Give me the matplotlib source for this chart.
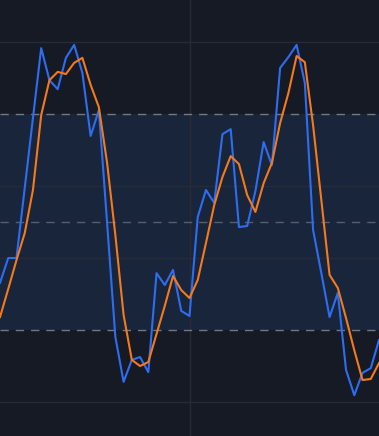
import matplotlib
matplotlib.use("Agg")
import matplotlib.pyplot as plt
import numpy as np

# pixel-read values converted to oscillator scale (0-100)
k_px = [283, 258, 258, 188, 118, 48, 80, 89, 58, 45, 73, 136, 110, 223, 337, 382,
        360, 357, 372, 273, 285, 270, 311, 316, 217, 190, 203, 134, 129, 227, 226,
        191, 142, 165, 68, 57, 45, 83, 230, 273, 317, 293, 370, 395, 373, 368, 340]
d_px = [317, 289, 260, 233, 190, 115, 80, 72, 74, 63, 58, 85, 107, 163, 235, 315,
        360, 366, 362, 334, 306, 276, 290, 298, 280, 243, 205, 177, 156, 164, 195,
        212, 183, 163, 123, 93, 56, 62, 125, 200, 275, 288, 318, 350, 380, 379, 363]
k_values = [round((402 - v) / 3.6, 1) for v in k_px]
d_values = [round((402 - v) / 3.6, 1) for v in d_px]
upper_band = 80
middle_band = 50
lower_band = 20

x = np.arange(len(k_values))

fig = plt.figure(figsize=(3.79, 4.36), dpi=100)
bg = "#161a25"
fig.patch.set_facecolor(bg)
ax = fig.add_axes([0, 0, 1, 1])
ax.set_facecolor(bg)

ax.axhspan(lower_band, upper_band, color="#1a2740", alpha=0.85, lw=0, zorder=0)
for yv in [0, 40, 60, 100]:
    ax.axhline(yv, color="#262b38", lw=1, zorder=1)
ax.axvline(23, color="#262b38", lw=1, zorder=1)
ax.axhline(upper_band, color="#8a8e99", lw=1, ls=(0, (6, 5)), alpha=0.8, zorder=2)
ax.axhline(middle_band, color="#8a8e99", lw=1, ls=(0, (6, 5)), alpha=0.55, zorder=2)
ax.axhline(lower_band, color="#8a8e99", lw=1, ls=(0, (6, 5)), alpha=0.8, zorder=2)

ax.plot(x, k_values, color="#2f6df0", lw=1.5, zorder=3)
ax.plot(x, d_values, color="#f57a1c", lw=1.5, zorder=4)

ax.set_xlim(0, len(k_values) - 1)
ax.set_ylim(-9.44, 111.67)
ax.set_xticks([])
ax.set_yticks([])
for s in ax.spines.values():
    s.set_visible(False)

fig.savefig("out.png", dpi=100, facecolor=bg)
